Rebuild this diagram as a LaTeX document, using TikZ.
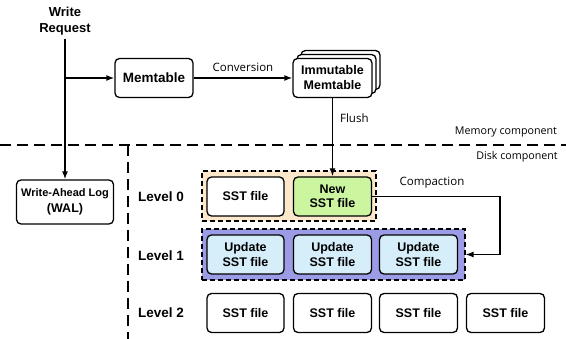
\documentclass[tikz,border=0pt]{standalone}
\usepackage{fontspec}
\setmainfont{Liberation Sans}
\newfontfamily\lblfont{Open Sans}
\usetikzlibrary{arrows.meta,shadows}

\definecolor{lzero}{HTML}{FDE8CC}
\definecolor{lone}{HTML}{9B9BE6}
\definecolor{newsst}{HTML}{CCF5A0}
\definecolor{updsst}{HTML}{D5EEF9}

\tikzset{
  box/.style={draw=black, line width=1.3pt, rounded corners=4.5pt, fill=white,
    minimum width=77pt, minimum height=39pt, inner sep=0pt, align=center,
    font=\bfseries\fontsize{12.5}{14.5}\selectfont},
  lvlbox/.style={draw=black, line width=1.1pt, dash pattern=on 5pt off 3pt,
    inner sep=0pt},
  sepline/.style={line width=1.5pt, dash pattern=on 11pt off 6pt},
  conn/.style={line width=1.3pt},
  arr/.style={conn, -{Latex[length=8pt,width=6pt]}},
  lbl/.style={font=\lblfont\fontsize{11.5}{13}\selectfont, inner sep=0pt},
  lvltext/.style={font=\bfseries\fontsize{13.5}{16}\selectfont, inner sep=0pt},
}

\begin{document}
\begin{tikzpicture}[x=1pt,y=1pt]
\useasboundingbox (0,0) rectangle (566,-339);

% memory / disk separators
\draw[sepline] (0,-145) -- (566,-145);
\draw[sepline] (128,-145) -- (128,-339);
\node[lbl, font=\lblfont\fontsize{10.7}{12}\selectfont] (memc) at (506,-132) {Memory component};
\node[lbl, font=\lblfont\fontsize{10.7}{12}\selectfont] (diskc) at (517,-157) {Disk component};

% write path
\node[align=center, anchor=south, inner sep=4pt,
  font=\bfseries\fontsize{13}{16}\selectfont] (req) at (65,-39) {Write\\Request};
\node[box, minimum width=78pt, font=\bfseries\fontsize{13.5}{16}\selectfont] (mem) at (154,-78) {Memtable};
\node[box, minimum width=79pt, double copy shadow={shadow xshift=4pt, shadow yshift=4pt},
  font=\bfseries\fontsize{12.5}{15}\selectfont] (imm) at (332.5,-78) {Immutable\\Memtable};
\node[box, minimum width=97pt, minimum height=44pt,
  font=\bfseries\fontsize{11}{16}\selectfont] (wal) at (65,-202) {Write-Ahead Log\\{\fontsize{12.5}{15}\selectfont (WAL)}};

\coordinate (split) at (req.south |- mem.west);
\draw[arr] (req.south) -- (wal.north);
\draw[arr] (split) -- (mem.west);
\draw[arr] (mem.east) -- node[lbl, above=6pt] (conv) {Conversion} (imm.west);

% level containers
\node[lvlbox, fill=lzero, minimum width=174pt, minimum height=50pt] (L0) at (289,-196) {};
\node[lvlbox, fill=lone, minimum width=263pt, minimum height=51pt] (L1) at (333.5,-254.5) {};

% level labels
\node[lvltext] (lv0) at (161,-197) {Level 0};
\node[lvltext] (lv1) at (161,-256) {Level 1};
\node[lvltext] (lv2) at (161,-313) {Level 2};

% level 0
\node[box] (s00) at (245.5,-196.5) {SST file};
\node[box, fill=newsst, minimum width=78pt] (new) at (332.5,-196.5) {New\\SST file};

% level 1
\node[box, fill=updsst] (u1) at (245.5,-254.5) {Update\\SST file};
\node[box, fill=updsst, minimum width=78pt] (u2) at (332.5,-254.5) {Update\\SST file};
\node[box, fill=updsst, minimum width=78pt] (u3) at (418.5,-254.5) {Update\\SST file};

% level 2
\node[box] (s20) at (245.5,-313) {SST file};
\node[box, minimum width=78pt] (s21) at (332.5,-313) {SST file};
\node[box, minimum width=78pt] (s22) at (418.5,-313) {SST file};
\node[box, minimum width=78pt] (s23) at (505.5,-313) {SST file};

% flush and compaction
\draw[arr] (imm.south) -- node[lbl, right=7pt, pos=0.25] (flush) {Flush} (new.north);
\coordinate (cturn) at (500,-197);
\draw[arr] (new.east) -- (new.east -| cturn) |- (L1.east);
\node[lbl] (compl) at (432,-183) {Compaction};
\end{tikzpicture}
\end{document}
